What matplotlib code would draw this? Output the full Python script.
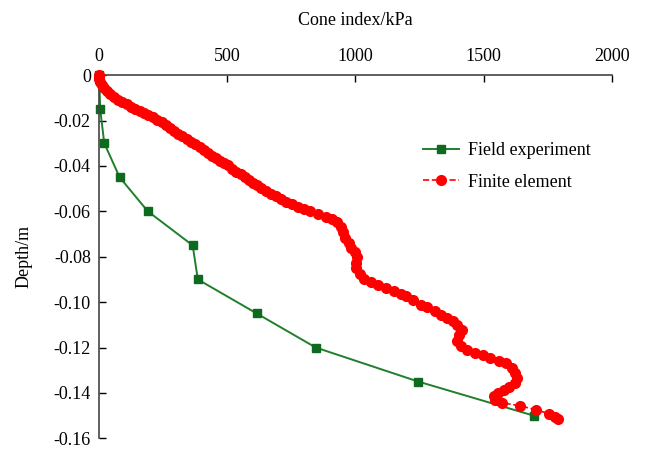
import matplotlib
matplotlib.use('Agg')
import matplotlib.pyplot as plt

plt.rcParams.update({
    'font.family': 'serif', 'font.serif': ['Liberation Serif', 'DejaVu Serif'],
    'font.size': 13,
})

# Field experiment (cone index kPa, depth m)
field_x = [0, 4, 20, 80, 190, 365, 385, 615, 845, 1245, 1695]
field_y = [0, -0.015, -0.030, -0.045, -0.060, -0.075, -0.090, -0.105, -0.120, -0.135, -0.150]

# Finite element
fe_x = [0, 0, 0, 4, 12, 20, 31, 43, 59, 74, 90, 109, 125, 141, 160, 176, 191, 211,
        227, 246, 262, 277, 293, 309, 324, 344, 359, 375, 395, 410, 426, 441, 457,
        473, 488, 504, 520, 535, 555, 570, 586, 602, 617, 633, 652, 672, 691, 711,
        730, 754, 777, 801, 824, 855, 887, 910, 930, 945, 953, 961, 973, 984, 1000,
        1008, 1004, 1004, 1016, 1035, 1059, 1090, 1121, 1152, 1176, 1199, 1226,
        1254, 1281, 1309, 1332, 1359, 1379, 1398, 1414, 1406, 1398, 1410, 1434,
        1465, 1496, 1527, 1559, 1586, 1609, 1621, 1629, 1621, 1601, 1578, 1555,
        1539, 1543, 1570, 1644, 1703, 1754, 1777, 1790]
fe_y = [0, -0.0010, -0.0019, -0.0032, -0.0045, -0.0058, -0.0071, -0.0084, -0.0097,
        -0.0111, -0.0120, -0.0128, -0.0141, -0.0150, -0.0159, -0.0168, -0.0176,
        -0.0185, -0.0198, -0.0207, -0.0220, -0.0233, -0.0246, -0.0259, -0.0268,
        -0.0281, -0.0294, -0.0303, -0.0316, -0.0329, -0.0342, -0.0355, -0.0364,
        -0.0377, -0.0385, -0.0398, -0.0412, -0.0425, -0.0434, -0.0447, -0.0460,
        -0.0473, -0.0486, -0.0499, -0.0512, -0.0525, -0.0534, -0.0547, -0.0560,
        -0.0569, -0.0582, -0.0591, -0.0600, -0.0613, -0.0626, -0.0635, -0.0648,
        -0.0670, -0.0692, -0.0718, -0.0740, -0.0762, -0.0779, -0.0801, -0.0827,
        -0.0849, -0.0875, -0.0897, -0.0910, -0.0923, -0.0936, -0.0949, -0.0963,
        -0.0971, -0.0989, -0.1011, -0.1020, -0.1037, -0.1055, -0.1068, -0.1085,
        -0.1103, -0.1124, -0.1146, -0.1172, -0.1194, -0.1212, -0.1225, -0.1233,
        -0.1247, -0.1260, -0.1268, -0.1290, -0.1312, -0.1334, -0.1356, -0.1373,
        -0.1386, -0.1399, -0.1413, -0.1430, -0.1443, -0.1457, -0.1474, -0.1491,
        -0.1505, -0.1513]

x_ticks = [0, 500, 1000, 1500, 2000]
y_ticks = [0, -0.02, -0.04, -0.06, -0.08, -0.10, -0.12, -0.14, -0.16]
y_ticklabels = ['0', '-0.02', '-0.04', '-0.06', '-0.08', '-0.10', '-0.12', '-0.14', '-0.16']

GREEN = '#1f7f2a'; GREEN_MK = '#0d6a1e'; RED = '#ff0000'; AXIS = '#444444'

fig = plt.figure(figsize=(6.48, 4.5), dpi=100)
ax = fig.add_axes([0.153, 0.026, 0.791, 0.807])

ax.plot(field_x, field_y, '-', color=GREEN, lw=1.4, marker='s', ms=5.5,
        mfc=GREEN_MK, mec=GREEN_MK, label='Field experiment', clip_on=False, zorder=2)
ax.plot(fe_x, fe_y, '--', color=RED, lw=1.2, marker='o', ms=7,
        mfc=RED, mec=RED, label='Finite element', clip_on=False, zorder=3)

ax.set_xlim(0, 2000)
ax.set_ylim(-0.16, 0)
ax.set_xticks(x_ticks)
ax.set_yticks(y_ticks)
ax.set_yticklabels(y_ticklabels)
ax.xaxis.tick_top()
ax.xaxis.set_label_position('top')
ax.set_xlabel('Cone index/kPa', labelpad=17)
ax.set_ylabel('Depth/m', labelpad=15)
ax.tick_params(direction='in', length=5, width=1, colors='black', labelsize=13)
ax.tick_params(axis='x', pad=7)
ax.tick_params(axis='y', pad=6)
for s in ['bottom', 'right']:
    ax.spines[s].set_visible(False)
for s in ['top', 'left']:
    ax.spines[s].set_color(AXIS)
    ax.spines[s].set_linewidth(1.2)

ax.legend(loc='upper left', bbox_to_anchor=(0.6, 0.86), frameon=False,
          labelspacing=0.8, handlelength=2.0, handletextpad=0.5, fontsize=13)

fig.savefig('out.png', dpi=100)
